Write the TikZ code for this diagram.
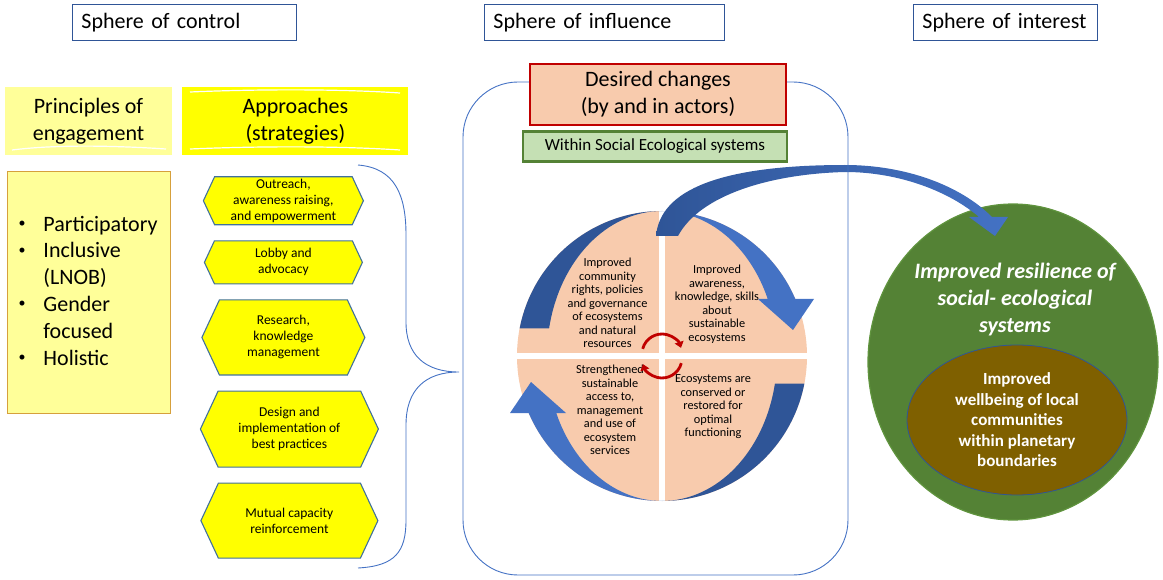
\documentclass[tikz,border=0pt]{standalone}
\usepackage{fontspec}
\setmainfont{Carlito}
\usetikzlibrary{positioning, shapes.symbols, shapes.geometric, arrows.meta}

\definecolor{TitleBlue}{RGB}{47, 85, 151}
\definecolor{PaleYellow}{RGB}{255, 255, 153}
\definecolor{Lemon}{RGB}{255, 255, 0}
\definecolor{Gold}{RGB}{214, 160, 60}
\definecolor{HexLine}{RGB}{65, 113, 156}
\definecolor{Peach}{RGB}{248, 203, 173}
\definecolor{DeepRed}{RGB}{192, 0, 0}
\definecolor{Sage}{RGB}{197, 224, 180}
\definecolor{Leaf}{RGB}{84, 130, 53}
\definecolor{LeafRim}{RGB}{96, 148, 62}
\definecolor{Navy}{RGB}{47, 85, 151}
\definecolor{Sky}{RGB}{68, 114, 196}
\definecolor{Umber}{RGB}{127, 96, 0}

\newcommand{\smallbullet}{\raisebox{3.5pt}{\fontsize{14}{14}\selectfont\textbullet}}

\tikzset{
  titlebox/.style={draw=TitleBlue, line width=0.9pt, anchor=north west, minimum height=36pt, inner xsep=9pt, align=left, font=\fontsize{22}{26}\selectfont},
  headbox/.style={minimum height=68pt, inner sep=0pt, align=center, font=\fontsize{22}{27}\selectfont},
  hexbox/.style={signal, signal to=east and west, signal pointer angle=130, draw=HexLine, line width=1.1pt, fill=Lemon, inner xsep=2pt, inner ysep=1pt, align=center, font=\fontsize{13.5}{16}\selectfont},
  quadtext/.style={align=center, inner sep=0pt, font=\fontsize{12.3}{13.5}\selectfont},
  marker/.style={white, line width=1.2pt},
}

\begin{document}
\begin{tikzpicture}[x=1pt, y=1pt]
\useasboundingbox (0,0) rectangle (1163,-580);

% header row
\node[titlebox, text width=206pt] (ctl) at (72,-4) {Sphere of control};
\node[titlebox, text width=222pt] (infl) at (484,-4) {Sphere of influence};
\node[titlebox, text width=166pt] (intr) at (913,-4) {Sphere of interest};

% sphere of control
\node[headbox, fill=PaleYellow, minimum width=167pt] (princ) at (88.5,-121) {Principles of\\engagement};
\node[headbox, fill=Lemon, minimum width=226pt, right=10pt of princ] (appr) {Approaches\\(strategies)};
% highlighter strokes
\draw[marker] (12,-150) .. controls (60,-144) and (120,-146) .. (166,-149);
\draw[marker] (190,-92) .. controls (260,-89) and (340,-89) .. (400,-93);
\draw[marker] (190,-149) .. controls (260,-146) and (340,-146) .. (400,-150);

\node[draw=Gold, fill=PaleYellow, line width=0.9pt, text width=140pt, inner xsep=11.5pt, minimum height=242pt, align=left, font=\fontsize{22}{26.8}\selectfont, below=16pt of princ] (princlist) {\begin{tabular}{@{}l@{\hspace{18pt}}l@{}}
\smallbullet & Participatory\\
\smallbullet & Inclusive\\
 & (LNOB)\\
\smallbullet & Gender\\
 & focused\\
\smallbullet & Holistic
\end{tabular}};

\node[hexbox, minimum width=160pt, minimum height=48pt, below=21pt of appr, xshift=-12pt] (h1) {Outreach,\\awareness raising,\\and empowerment};
\node[hexbox, minimum width=158pt, minimum height=43pt, below=15pt of h1] (h2) {Lobby and\\advocacy};
\node[hexbox, minimum width=163pt, minimum height=75pt, below=15pt of h2] (h3) {Research,\\knowledge\\management};
\node[hexbox, minimum width=178pt, minimum height=76pt, below=15pt of h3, xshift=6pt] (h4) {Design and\\implementation of\\best practices};
\node[hexbox, minimum width=177pt, minimum height=75pt, below=15pt of h4] (h5) {Mutual capacity\\reinforcement};

% brace
\draw[Sky, line width=0.9pt] (358,-165) .. controls (395,-168) and (406,-195) .. (406,-235) -- (406,-322) .. controls (406,-355) and (425,-372) .. (459,-372) .. controls (425,-372) and (406,-390) .. (406,-425) -- (406,-520) .. controls (406,-552) and (395,-566) .. (358,-568);

% sphere of interest
\node[ellipse, fill=Leaf, draw=LeafRim, line width=1.2pt, minimum width=290pt, minimum height=316pt] (resil) at (1013,-362) {};
\node[text=white, align=center, font=\fontsize{22}{27}\selectfont\bfseries\itshape] (resiltxt) at (1015,-300) {Improved resilience of\\social- ecological\\systems};
\node[ellipse, fill=Umber, draw=Navy, line width=0.8pt, minimum width=220pt, minimum height=150pt, inner sep=0pt, text=white, align=center, font=\fontsize{17}{20.5}\selectfont\bfseries] (wellb) at (1017,-420) {Improved\\wellbeing of local\\communities\\within planetary\\boundaries};

% change cycle
\fill[Peach] (662,-356) circle[radius=145];
\draw[white, line width=6pt] (662,-209) -- (662,-503) (515,-356) -- (809,-356);
\node[quadtext] (qul) at (607.5,-303) {Improved\\community\\rights, policies\\and governance\\of ecosystems\\and natural\\resources};
\node[quadtext] (qur) at (717,-304) {Improved\\awareness,\\knowledge, skills\\about\\sustainable\\ecosystems};
\node[quadtext] (qll) at (610,-410) {Strengthened\\sustainable\\access to,\\management\\and use of\\ecosystem\\services};
\node[quadtext] (qlr) at (713,-407) {Ecosystems are\\conserved or\\restored for\\optimal\\functioning};

\foreach \r in {0,180}{
  \begin{scope}[rotate around={\r:(662,-356)}]
    \fill[Navy] ([shift={(169:145)}]662,-356) arc[start angle=169, end angle=90, radius=145] arc[start angle=90, end angle=169, x radius=115, y radius=145] -- cycle;
    \fill[Sky] ([shift={(90:145)}]662,-356) arc[start angle=90, end angle=23.2, radius=145] -- (814,-299) -- (793,-330) -- (758,-299) -- ([shift={(23.2:115 and 145)}]662,-356) arc[start angle=23.2, end angle=90, x radius=115, y radius=145] -- cycle;
  \end{scope}
}

\draw[DeepRed, line width=2.8pt, -{Triangle[length=6pt, width=9pt]}] ([shift={(165:20)}]662,-354) arc[start angle=165, end angle=18, radius=20];
\draw[DeepRed, line width=2.8pt, -{Triangle[length=6pt, width=9pt]}] ([shift={(-15:20)}]662,-358) arc[start angle=-15, end angle=-162, radius=20];

% arrow to the sphere of interest
\shade[left color=Navy, right color=Sky] (656,-236) .. controls (660,-190) and (720,-165) .. (845,-165) .. controls (905,-165) and (960,-185) .. (992,-217) -- (1008,-217) -- (995,-236) -- (969,-217) -- (979,-217) .. controls (950,-192) and (900,-172) .. (845,-172) .. controls (770,-174) and (700,-195) .. (678,-236) -- cycle;

% sphere of influence
\node[draw=Sky, line width=0.9pt, rounded corners=55pt, minimum width=385pt, minimum height=493pt] (inflbox) at (655.5,-328.5) {};
\node[draw=DeepRed, fill=Peach, line width=2.5pt, minimum width=256pt, minimum height=61pt, align=center, font=\fontsize{22}{27}\selectfont] (desired) at (658,-94.5) {Desired changes\\(by and in actors)};
\node[draw=Leaf, fill=Sage, line width=2.5pt, minimum width=264pt, minimum height=30pt, font=\fontsize{17}{20}\selectfont, below=4pt of desired, xshift=-3pt] (within) {Within Social Ecological systems};
\end{tikzpicture}
\end{document}
